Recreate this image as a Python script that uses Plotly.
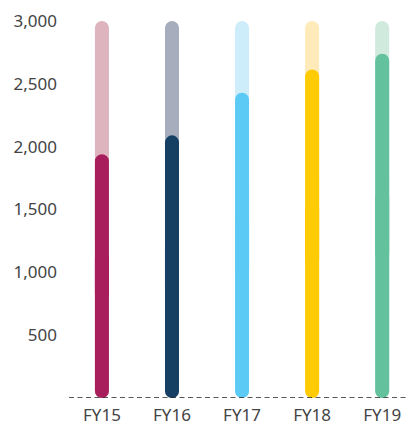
import plotly.graph_objects as go

categories = ["FY15", "FY16", "FY17", "FY18", "FY19"]
values = [1940, 2090, 2430, 2615, 2740]
capacity = [3000, 3000, 3000, 3000, 3000]
dark_colors = ["#A81E5D", "#153F63", "#5BCBF5", "#FFCB05", "#63C29D"]
light_colors = ["#DEB4BE", "#A8ADBE", "#CDEDFA", "#FFEBB9", "#D0EADD"]
y_ticks = [500, 1000, 1500, 2000, 2500, 3000]

xpos = list(range(len(categories)))
BW = 0.2


def pill(vals, colors):
    # upper part: rounded top; lower part: drawn downward, rounded bottom
    up = go.Bar(x=xpos, y=[v * 0.6 for v in vals], base=[v * 0.4 for v in vals],
                width=BW, marker=dict(color=colors, line=dict(width=0)),
                hoverinfo="skip", showlegend=False)
    down = go.Bar(x=xpos, y=[-v * 0.6 for v in vals], base=[v * 0.6 for v in vals],
                  width=BW, marker=dict(color=colors, line=dict(width=0)),
                  hoverinfo="skip", showlegend=False)
    return [up, down]


fig = go.Figure()
for t in pill(capacity, light_colors):
    fig.add_trace(t)
for t in pill(values, dark_colors):
    fig.add_trace(t)

fig.add_shape(type="line", xref="paper", yref="y", x0=0, x1=1, y0=0, y1=0,
              line=dict(color="#222222", width=1.5, dash="5px,3.5px"), layer="above")

fig.update_layout(
    width=406, height=425,
    margin=dict(l=69, r=0, t=21, b=27),
    paper_bgcolor="white", plot_bgcolor="white",
    barmode="overlay", barcornerradius="50%",
    font=dict(family="Noto Sans", size=17, color="#444444"),
    showlegend=False,
    xaxis=dict(range=[-0.47, 4.34], tickvals=xpos, ticktext=categories,
               showgrid=False, zeroline=False, showline=False, ticks="",
               ticklabelstandoff=5, automargin=False),
    yaxis=dict(range=[0, 3000], tickvals=y_ticks, tickformat=",",
               showgrid=False, zeroline=False, showline=False, ticks="",
               ticklabelstandoff=11, automargin=False),
)

fig.write_html("out.html")
